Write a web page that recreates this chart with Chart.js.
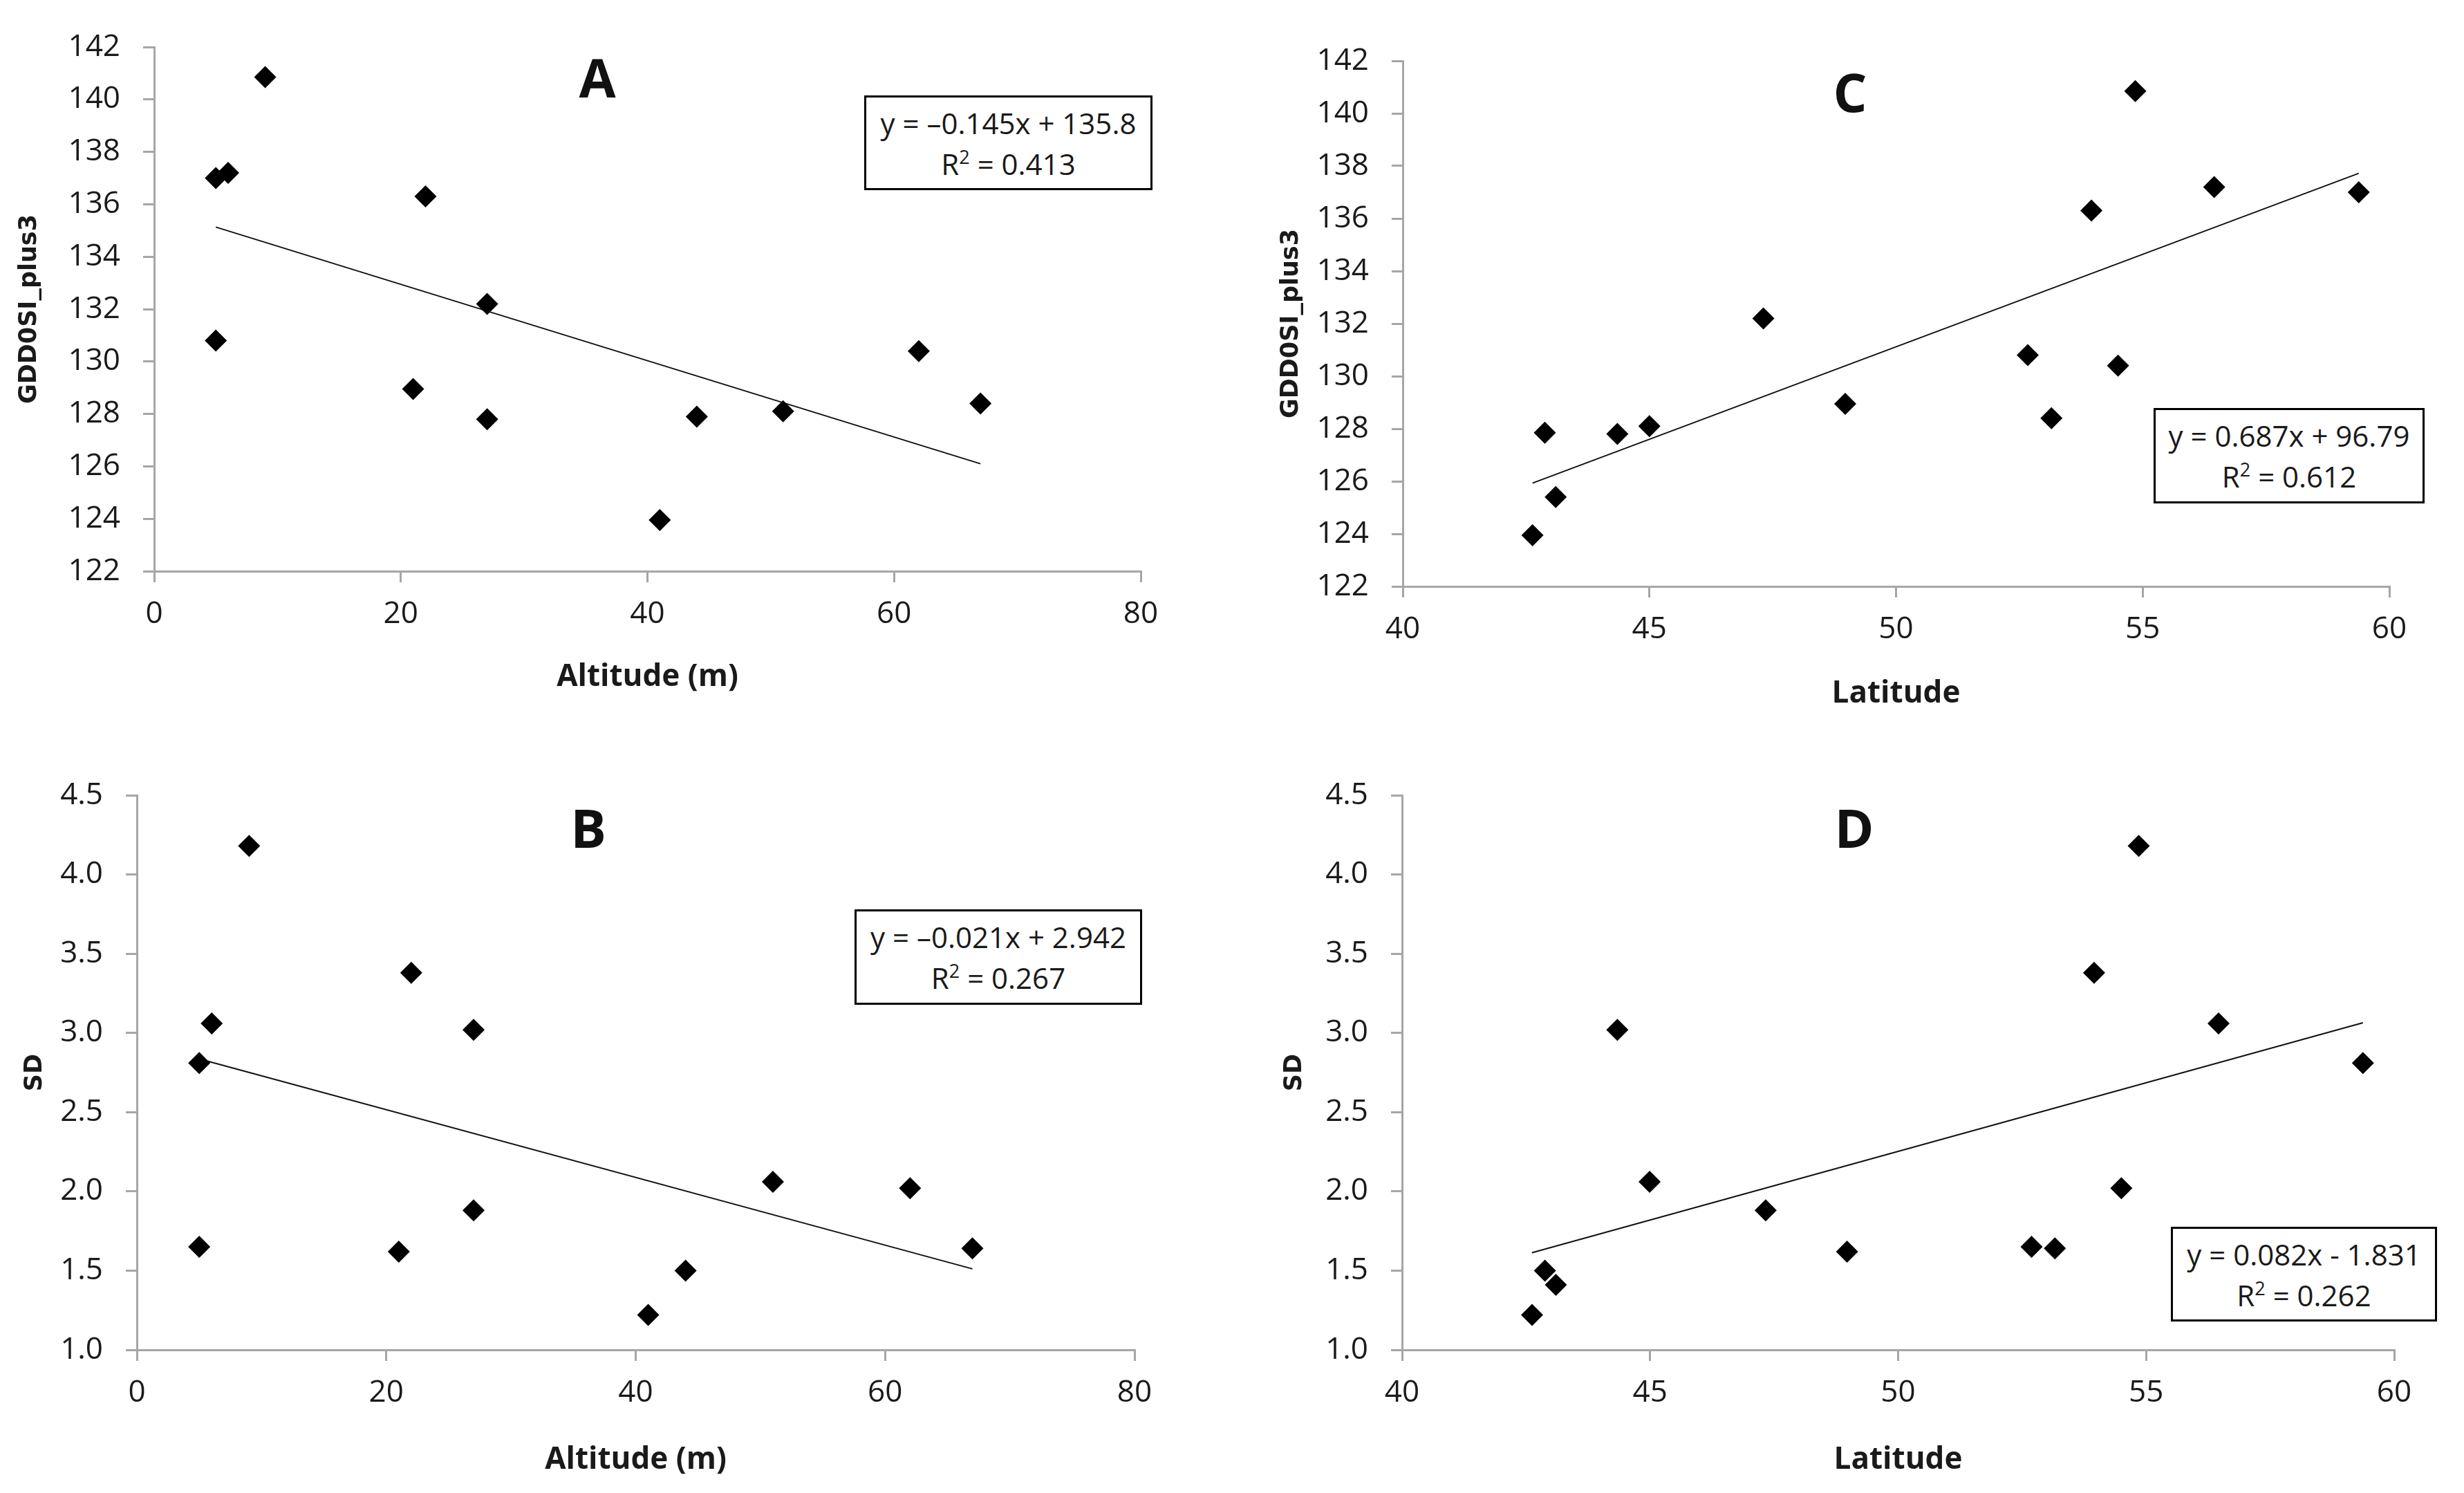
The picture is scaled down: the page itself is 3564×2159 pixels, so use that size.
<!DOCTYPE html>
<html>
<head>
<meta charset="utf-8">
<script src="https://cdn.jsdelivr.net/npm/chart.js@4.4.1/dist/chart.umd.min.js"></script>
<style>
  body { margin: 0; background: #fff; }
  #page { position: relative; width: 3564px; height: 2159px; background: #fff; overflow: hidden; }
  .panel { position: absolute; }
  .letter {
    position: absolute; transform: translate(-50%, -50%);
    font-family: 'Open Sans', sans-serif; font-weight: bold; font-size: 77px; color: #111;
  }
  .eq {
    position: absolute; box-sizing: border-box; border: 3px solid #000; background: #fff;
    display: flex; flex-direction: column; justify-content: center; align-items: center;
    font-family: 'Open Sans', sans-serif; font-size: 42px;
    line-height: 59px; color: #1a1a1a;
  }
  .eq sup { font-size: 27px; line-height: 0; vertical-align: 16px; }
</style>
</head>
<body>
<div id="page">
  <canvas id="chartA" class="panel" style="left:0;top:0" width="1782" height="1080"></canvas>
  <canvas id="chartC" class="panel" style="left:1782px;top:0" width="1782" height="1080"></canvas>
  <canvas id="chartB" class="panel" style="left:0;top:1080px" width="1782" height="1079"></canvas>
  <canvas id="chartD" class="panel" style="left:1782px;top:1080px" width="1782" height="1079"></canvas>

  <div class="letter" style="left:864px;top:111px">A</div>
  <div class="letter" style="left:2676px;top:132px">C</div>
  <div class="letter" style="left:851px;top:1196px">B</div>
  <div class="letter" style="left:2682px;top:1196px">D</div>

  <div class="eq" style="left:1250px;top:138px;width:417px;height:137px">
    <div>y = –0.145x + 135.8</div><div>R<sup>2</sup> = 0.413</div>
  </div>
  <div class="eq" style="left:3115px;top:590px;width:392px;height:138px">
    <div>y = 0.687x + 96.79</div><div>R<sup>2</sup> = 0.612</div>
  </div>
  <div class="eq" style="left:1236px;top:1315px;width:416px;height:138px">
    <div>y = –0.021x + 2.942</div><div>R<sup>2</sup> = 0.267</div>
  </div>
  <div class="eq" style="left:3140px;top:1774px;width:385px;height:137px">
    <div>y = 0.082x - 1.831</div><div>R<sup>2</sup> = 0.262</div>
  </div>
</div>

<script>
// Valores
const altA = [5, 6, 9, 5, 22, 27, 21, 27, 41, 44, 51, 62, 67];
const gddA = [137.0, 137.2, 140.85, 130.8, 136.3, 132.2, 128.95, 127.8, 123.95, 127.9, 128.1, 130.4, 128.4];

const latC = [54.85, 56.45, 59.38, 53.96, 47.31, 52.67, 54.5, 48.97, 53.15, 42.88, 44.35, 45.0, 43.1, 42.63];
const gddC = [140.85, 137.2, 137.0, 136.3, 132.2, 130.8, 130.4, 128.95, 128.4, 127.85, 127.8, 128.1, 125.4, 123.95];

const altB = [9, 6, 5, 5, 22, 27, 27, 21, 41, 44, 51, 62, 67];
const sdB = [4.18, 3.06, 2.81, 1.65, 3.38, 3.02, 1.88, 1.62, 1.22, 1.50, 2.06, 2.02, 1.64];

const latD = [54.85, 53.95, 44.34, 56.46, 59.37, 44.99, 54.5, 47.33, 48.97, 52.69, 53.16, 42.88, 43.1, 42.62];
const sdD = [4.18, 3.38, 3.02, 3.06, 2.81, 2.06, 2.02, 1.88, 1.62, 1.65, 1.64, 1.50, 1.41, 1.22];

// Líneas de tendencia (extremos)
const trendAx = [5, 67], trendAy = [135.13, 126.1];
const trendCx = [42.63, 59.38], trendCy = [125.93, 137.72];
const trendBx = [5, 67], trendBy = [2.836, 1.511];
const trendDx = [42.62, 59.37], trendDy = [1.613, 3.064];

// Etiquetas de los ejes
const gddTicks = [122, 124, 126, 128, 130, 132, 134, 136, 138, 140, 142];
const sdTicks = [1.0, 1.5, 2.0, 2.5, 3.0, 3.5, 4.0, 4.5];
const altTicks = [0, 20, 40, 60, 80];
const latTicks = [40, 45, 50, 55, 60];

const tickFont = { family: "'Open Sans', sans-serif", size: 44 };
const axisGray = '#a6a6a6';
const textColor = '#1a1a1a';

function toPoints(xs, ys) {
    return xs.map((x, i) => ({ x: x, y: ys[i] }));
}

function makePanel(id, xs, ys, tx, ty, cfg) {
    const ctx = document.getElementById(id);
    return new Chart(ctx, {
        type: 'scatter',
        data: {
            datasets: [{
                data: toPoints(xs, ys),
                pointStyle: 'rectRot',
                pointRadius: 16,
                backgroundColor: '#000',
                borderColor: '#000',
                borderWidth: 0
            }, {
                type: 'line',
                data: toPoints(tx, ty),
                borderColor: '#111',
                borderWidth: 2,
                pointRadius: 0,
                fill: false
            }]
        },
        options: {
            responsive: false,
            animation: false,
            devicePixelRatio: 1,
            layout: { padding: { top: cfg.padTop, right: cfg.padRight, bottom: cfg.padBottom, left: 0 } },
            plugins: { legend: { display: false }, tooltip: { enabled: false } },
            scales: {
                x: {
                    type: 'linear',
                    min: cfg.xTicks[0],
                    max: cfg.xTicks[cfg.xTicks.length - 1],
                    afterBuildTicks: s => { s.ticks = cfg.xTicks.map(v => ({ value: v })); },
                    afterFit: s => { s.height = cfg.xHeight; },
                    ticks: { font: tickFont, color: textColor, padding: 20, maxRotation: 0 },
                    grid: { drawOnChartArea: false, drawTicks: true, tickLength: 16, color: axisGray, lineWidth: 3 },
                    border: { color: axisGray, width: 3 },
                    title: {
                        display: true, text: cfg.xTitle, color: textColor,
                        font: { family: tickFont.family, size: 44, weight: 'bold' },
                        padding: { top: 0, bottom: cfg.xTitlePad }
                    }
                },
                y: {
                    type: 'linear',
                    min: cfg.yTicks[0],
                    max: cfg.yTicks[cfg.yTicks.length - 1],
                    afterBuildTicks: s => { s.ticks = cfg.yTicks.map(v => ({ value: v })); },
                    afterFit: s => { s.width = cfg.yWidth; },
                    ticks: {
                        font: tickFont, color: textColor, padding: 33,
                        callback: v => cfg.yFmt(v)
                    },
                    grid: { drawOnChartArea: false, drawTicks: true, tickLength: 16, color: axisGray, lineWidth: 3 },
                    border: { color: axisGray, width: 3 },
                    title: {
                        display: true, text: cfg.yTitle, color: textColor,
                        font: { family: "'DejaVu Sans', sans-serif", size: 35, weight: 'bold' },
                        padding: { top: cfg.yTitlePad, bottom: 0 }
                    }
                }
            }
        }
    });
}

const intFmt = v => String(v);
const oneDec = v => Number(v).toFixed(1);

makePanel('chartA', altA, gddA, trendAx, trendAy, {
    xTicks: altTicks, yTicks: gddTicks, yFmt: intFmt,
    xTitle: 'Altitude (m)', yTitle: 'GDD0SI_plus3',
    padTop: 68, padRight: 132, padBottom: 54, yWidth: 223, xHeight: 200,
    xTitlePad: 20, yTitlePad: 22
});

makePanel('chartC', latC, gddC, trendCx, trendCy, {
    xTicks: latTicks, yTicks: gddTicks, yFmt: intFmt,
    xTitle: 'Latitude', yTitle: 'GDD0SI_plus3',
    padTop: 88, padRight: 108, padBottom: 32, yWidth: 247, xHeight: 200,
    xTitlePad: 18, yTitlePad: 65
});

makePanel('chartB', altB, sdB, trendBx, trendBy, {
    xTicks: altTicks, yTicks: sdTicks, yFmt: oneDec,
    xTitle: 'Altitude (m)', yTitle: 'SD',
    padTop: 70, padRight: 141, padBottom: 21, yWidth: 198, xHeight: 186,
    xTitlePad: 0, yTitlePad: 30
});

makePanel('chartD', latD, sdD, trendDx, trendDy, {
    xTicks: latTicks, yTicks: sdTicks, yFmt: oneDec,
    xTitle: 'Latitude', yTitle: 'SD',
    padTop: 70, padRight: 101, padBottom: 21, yWidth: 246, xHeight: 186,
    xTitlePad: 0, yTitlePad: 70
});
</script>
</body>
</html>
